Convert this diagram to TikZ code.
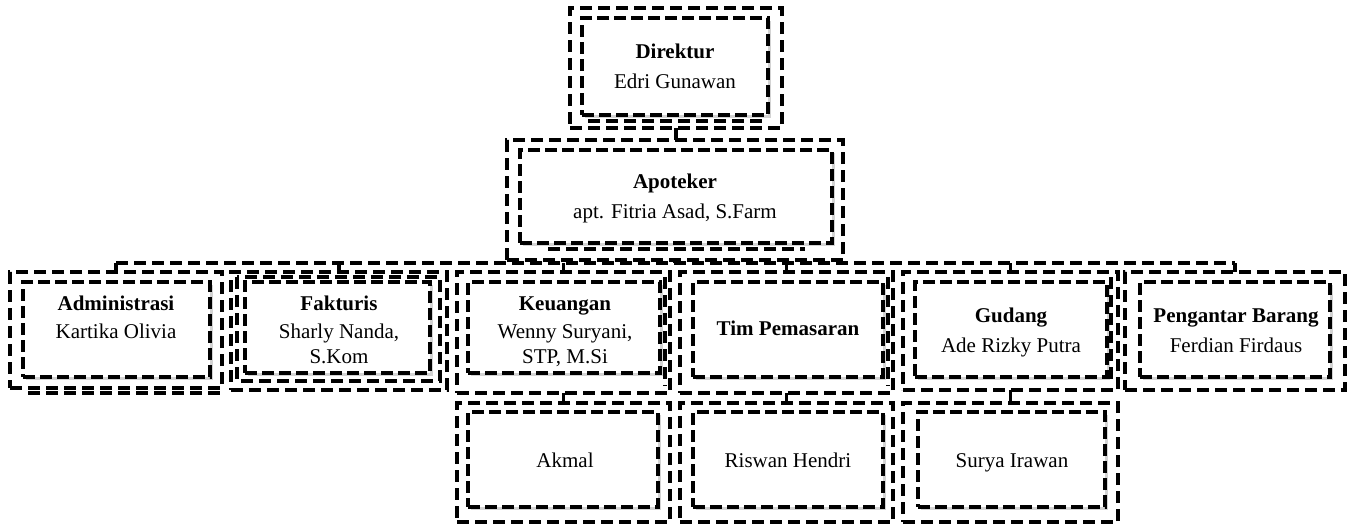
\documentclass[tikz,border=0pt]{standalone}
\usepackage{fontspec}
\setmainfont{Liberation Serif}
\usetikzlibrary{shadows}
\tikzset{
  outerbox/.style={draw=black, line width=3.2pt, dash pattern=on 12pt off 6pt, inner sep=0pt, outer sep=0pt},
  innerbox/.style={draw=black, line width=3.8pt, dash pattern=on 12pt off 5pt, fill=white, inner sep=0pt, outer sep=0pt,
    drop shadow={shadow xshift=2.5pt, shadow yshift=-2.5pt, opacity=0.35}},
  extraline/.style={draw=black, line width=3.2pt, dash pattern=on 12pt off 6pt},
  link/.style={draw=black, line width=3.2pt, dash pattern=on 12pt off 6pt},
  lbl/.style={anchor=north, inner sep=0pt, align=center, font=\fontsize{21}{25}\selectfont},
}
\newcommand\orgbox[9]{%
  \node[outerbox, minimum width={#4-#2}, minimum height={#5-#3}] (#1O) at ({(#2+#4)/2},{(#3+#5)/2}) {};
  \node[innerbox, minimum width={#8-#6}, minimum height={#9-#7}] (#1I) at ({(#6+#8)/2},{(#7+#9)/2}) {};
}
\begin{document}
\begin{tikzpicture}[x=1pt,y=-1pt]
\useasboundingbox (0,0) rectangle (1352,525);

% boxes: name, outer x1 y1 x2 y2, inner x1 y1 x2 y2
\orgbox{dir}{570}{8}{782}{128}{582}{18}{768}{115}
\orgbox{apo}{507}{140}{843}{260}{520}{150}{832}{243}
\orgbox{adm}{10}{272}{222}{388}{23}{282}{210}{377}
\orgbox{fak}{231}{272}{447}{390}{245}{282}{430}{373}
\orgbox{keu}{457}{272}{670}{393}{468}{282}{660}{373}
\orgbox{tim}{680}{272}{893}{393}{693}{282}{883}{377}
\orgbox{gud}{903}{272}{1118}{390}{915}{282}{1107}{377}
\orgbox{pen}{1125}{272}{1345}{390}{1140}{282}{1330}{377}
\orgbox{akm}{457}{403}{670}{522}{468}{412}{658}{507}
\orgbox{ris}{680}{403}{893}{522}{693}{412}{883}{507}
\orgbox{sur}{903}{403}{1118}{522}{918}{412}{1105}{507}

% extra partial outlines
\draw[extraline] (588,121) -- (763,121);
\draw[extraline] (548,249) -- (805,249);
\draw[extraline] (28,393) -- (222,393);
\draw[extraline] (237,277) rectangle (440,381);
\draw[extraline] (665,277) -- (665,386);
\draw[extraline] (888,277) -- (888,386);
\draw[extraline] (1111,277) -- (1111,384);

% texts
\node[lbl] (dirT) at (675,42) {\rule{0pt}{16pt}\textbf{Direktur}\\[5pt]Edri Gunawan};
\node[lbl] (apoT) at (675,172) {\rule{0pt}{16pt}\textbf{Apoteker}\\[5pt]apt. Fitria Asad, S.Farm};
\node[lbl] (admT) at (116,294) {\rule{0pt}{16pt}\textbf{Administrasi}\\[3pt]Kartika Olivia};
\node[lbl] (fakT) at (339,294) {\rule{0pt}{16pt}\textbf{Fakturis}\\[3pt]Sharly Nanda,\\S.Kom};
\node[lbl] (keuT) at (565,294) {\rule{0pt}{16pt}\textbf{Keuangan}\\[3pt]Wenny Suryani,\\STP, M.Si};
\node[lbl] (timT) at (788,319) {\rule{0pt}{16pt}\textbf{Tim Pemasaran}};
\node[lbl] (gudT) at (1011,306) {\rule{0pt}{16pt}\textbf{Gudang}\\[5pt]Ade Rizky Putra};
\node[lbl] (penT) at (1236,306) {\rule{0pt}{16pt}\textbf{Pengantar Barang}\\[5pt]Ferdian Firdaus};
\node[lbl] (akmT) at (565,451) {\rule{0pt}{16pt}Akmal};
\node[lbl] (risT) at (788,451) {\rule{0pt}{16pt}Riswan Hendri};
\node[lbl] (surT) at (1012,451) {\rule{0pt}{16pt}Surya Irawan};

% connectors
\coordinate (bus) at (675,263);
\draw[link] (dirO.south) -- (dirO.south |- apoO.north);
\draw[link] (apoO.south) -- (apoO.south |- bus);
\draw[link] (admO.north |- bus) -- (penO.north |- bus);
\foreach \c in {adm,fak,keu,tim,gud,pen}
  \draw[link] (\c O.north |- bus) -- (\c O.north);
\draw[link] (keuO.south) -- (akmO.north);
\draw[link] (timO.south) -- (risO.north);
\draw[link] (gudO.south) -- (surO.north);
\end{tikzpicture}
\end{document}
